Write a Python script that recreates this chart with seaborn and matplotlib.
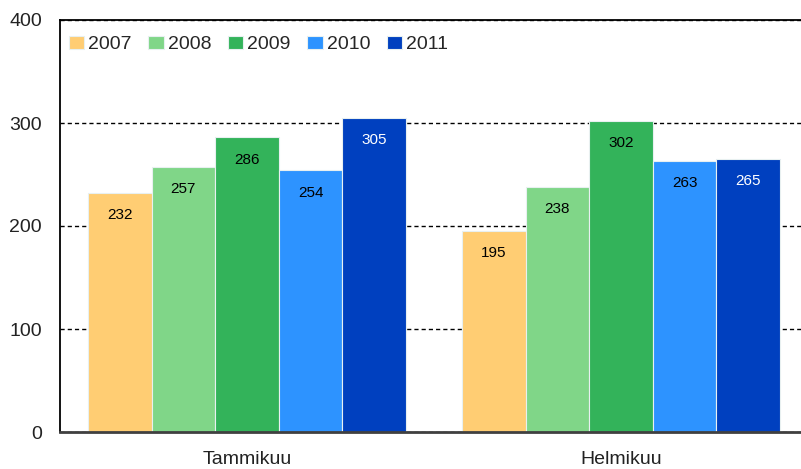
import matplotlib
matplotlib.use("Agg")
import matplotlib.pyplot as plt
import seaborn as sns
import pandas as pd

months = ["Tammikuu", "Helmikuu"]
years = ["2007", "2008", "2009", "2010", "2011"]
vals_2007 = [232, 195]
vals_2008 = [257, 238]
vals_2009 = [286, 302]
vals_2010 = [254, 263]
vals_2011 = [305, 265]
colors = ["#FFCD73", "#80D688", "#33B35A", "#2D93FF", "#0040BF"]
label_colors = ["black", "black", "black", "black", "white"]

rows = []
for y, vals in zip(years, [vals_2007, vals_2008, vals_2009, vals_2010, vals_2011]):
    for m, v in zip(months, vals):
        rows.append({"month": m, "year": y, "value": v})
df = pd.DataFrame(rows)

sns.set_style("white")
plt.rcParams["font.family"] = ["Liberation Sans", "DejaVu Sans"]

fig = plt.figure(figsize=(8.01, 4.69), dpi=100)
ax = fig.add_axes([60 / 801, 1 - 432 / 469, 748 / 801, 412 / 469])

sns.barplot(data=df, x="month", y="value", hue="year", palette=colors,
            width=0.85, gap=0, edgecolor="#e8f0f0", linewidth=0.8,
            saturation=1, ax=ax, zorder=2)

for cont, c in zip(ax.containers, label_colors):
    ax.bar_label(cont, padding=-21, color=c, fontsize=11)

ax.set_ylim(0, 400)
ax.set_xlim(-0.5, 1.5)
ax.set_yticks([0, 100, 200, 300, 400])
ax.set_xlabel("")
ax.set_ylabel("")
ax.yaxis.grid(True, linestyle=(0, (3, 2.2)), color="black", linewidth=1, zorder=0)
ax.set_axisbelow(True)
ax.tick_params(axis="y", length=0, pad=13, labelsize=14, colors="#222222")
ax.tick_params(axis="x", length=0, pad=14, labelsize=14, colors="#222222")

for s in ["top", "left"]:
    ax.spines[s].set_color("black")
    ax.spines[s].set_linewidth(1.3)
ax.spines["bottom"].set_color("#404040")
ax.spines["bottom"].set_linewidth(2)
ax.spines["right"].set_visible(False)

ax.legend(ncol=5, loc="upper left", frameon=False, fontsize=14,
          handlelength=0.8, handleheight=0.65, handletextpad=0.2,
          columnspacing=0.85, borderaxespad=0.6, borderpad=0.2,
          bbox_to_anchor=(-0.009, 1.0))

fig.savefig("out.png", dpi=100)
